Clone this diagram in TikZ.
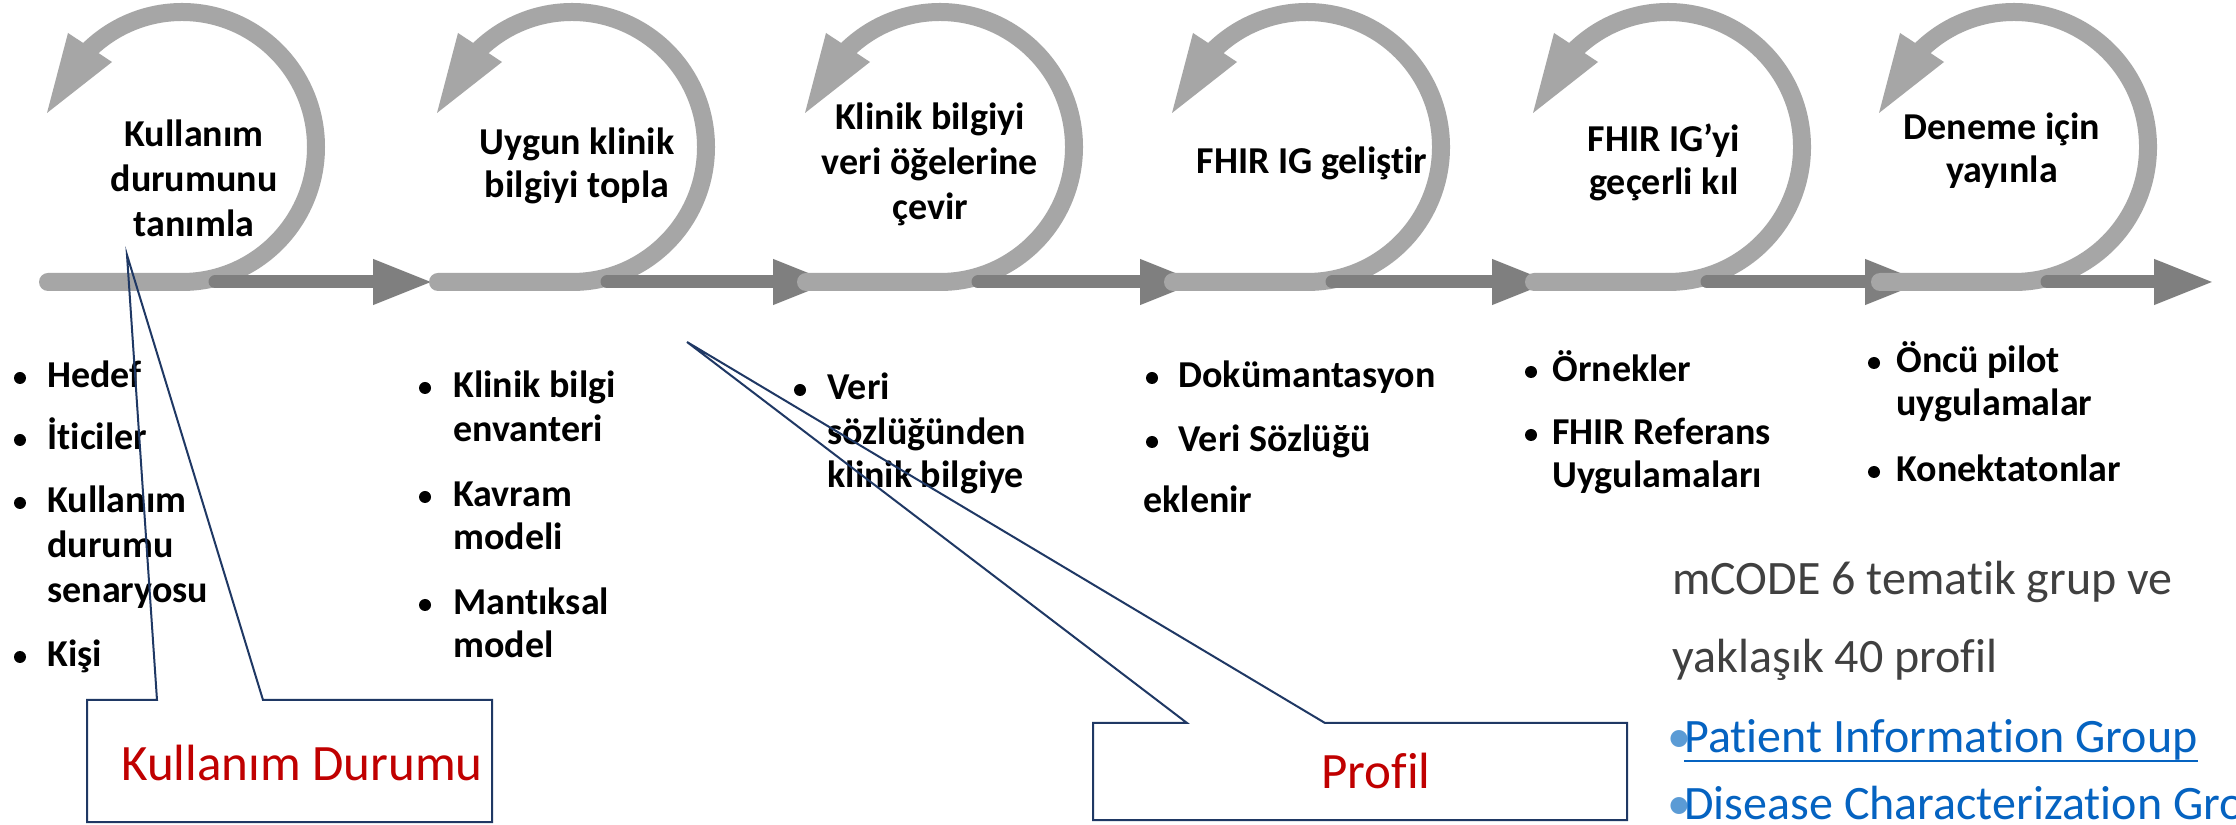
\documentclass[tikz,border=0pt]{standalone}
\usepackage{fontspec}
\setmainfont{Carlito}[Ligatures=NoCommon]
\usetikzlibrary{arrows.meta}
\definecolor{lightg}{HTML}{A6A6A6}
\definecolor{darkg}{HTML}{7F7F7F}
\definecolor{navy}{HTML}{1F3864}
\definecolor{redt}{HTML}{C00000}
\definecolor{greyt}{HTML}{404040}
\definecolor{linkblue}{HTML}{0563C1}
\definecolor{bulblue}{HTML}{5B9BD5}
\begin{document}
\begin{tikzpicture}[x=0.5pt,y=0.5pt,
  loopline/.style={draw=lightg,line width=9pt,line cap=round},
  loophead/.style={fill=lightg},
  darkarrow/.style={draw=darkg,line width=6.5pt,line cap=round},
  title/.style={anchor=base,font=\fontsize{19}{23}\selectfont\bfseries,inner sep=0pt},
  item/.style={anchor=base west,font=\fontsize{19}{23}\selectfont\bfseries,inner sep=0pt},
  dot/.style={circle,fill=black,inner sep=0pt,minimum size=6pt},
  callout/.style={draw=navy,line width=1pt},
  ctext/.style={anchor=base,text=redt,font=\fontsize{25.5}{30}\selectfont,inner sep=0pt},
  note/.style={anchor=base west,text=greyt,font=\fontsize{24}{28}\selectfont,inner sep=0pt},
  link/.style={anchor=base west,text=linkblue,font=\fontsize{24}{28}\selectfont,inner sep=0pt},
  linkdot/.style={anchor=base west,text=bulblue,font=\fontsize{24}{28}\selectfont,inner sep=0pt}]
\clip (0,0) rectangle (2236,824);
\fill[white] (0,0) rectangle (2236,824);
% loops and arrows
\foreach \i/\cx/\ds/\dt in {1/182/215/433, 2/572/607/833, 3/940/978/1200, 4/1307/1332/1552, 5/1668/1707/1925, 6/2014/2047/2214}{
  \draw[loopline] ({\cx-134},542) -- (\cx,542) arc[start angle=-90,end angle=136,x radius=134,y radius=135];
  \fill[loophead] ({\cx-135},711) -- ({\cx-114},791) -- ({\cx-70},762) -- cycle;
  \coordinate (s\i) at (\ds,542);
  \coordinate (e\i) at (\dt,542);
  \draw[darkarrow,-{Triangle[length=30pt,width=21pt]}] (s\i) -- (e\i);
}
% titles
\node[title] (t1a) at (194,677) {Kullanım};
\node[title] (t1b) at (194,632) {durumunu};
\node[title] (t1c) at (194,587) {tanımla};
\node[title] (t2a) at (577,669) {Uygun klinik};
\node[title] (t2b) at (577,626) {bilgiyi topla};
\node[title] (t3a) at (930,694) {Klinik bilgiyi};
\node[title] (t3b) at (930,649) {veri öğelerine};
\node[title] (t3c) at (930,604) {çevir};
\node[title] (t4a) at (1312,650) {FHIR IG geliştir};
\node[title] (t5a) at (1664,672) {FHIR IG’yi};
\node[title] (t5b) at (1664,629) {geçerli kıl};
\node[title] (t6a) at (2002,684) {Deneme için};
\node[title] (t6b) at (2002,641) {yayınla};
% list 1
\node[dot] (b1a) at (20,446) {};
\node[item] (l1a) at (47,436) {Hedef};
\node[dot] (b1b) at (20,384) {};
\node[item] (l1b) at (47,374) {İticiler};
\node[dot] (b1c) at (20,321) {};
\node[item] (l1c) at (47,311) {Kullanım};
\node[item] (l1d) at (47,266) {durumu};
\node[item] (l1e) at (47,221) {senaryosu};
\node[dot] (b1d) at (20,167) {};
\node[item] (l1f) at (47,157) {Kişi};
% list 2
\node[dot] (b2a) at (425,436) {};
\node[item] (l2a) at (453,426) {Klinik bilgi};
\node[item] (l2b) at (453,382) {envanteri};
\node[dot] (b2b) at (425,327) {};
\node[item] (l2c) at (453,317) {Kavram};
\node[item] (l2d) at (453,274) {modeli};
\node[dot] (b2c) at (425,219) {};
\node[item] (l2e) at (453,209) {Mantıksal};
\node[item] (l2f) at (453,166) {model};
% list 3
\node[dot] (b3a) at (800,434) {};
\node[item] (l3a) at (827,424) {Veri};
\node[item] (l3b) at (827,379) {sözlüğünden};
\node[item] (l3c) at (827,336) {klinik bilgiye};
% list 4
\node[dot] (b4a) at (1152,446) {};
\node[item] (l4a) at (1178,436) {Dokümantasyon};
\node[dot] (b4b) at (1152,382) {};
\node[item] (l4b) at (1178,372) {Veri Sözlüğü};
\node[item] (l4c) at (1143,311) {eklenir};
% list 5
\node[dot] (b5a) at (1531,452) {};
\node[item] (l5a) at (1552,442) {Örnekler};
\node[dot] (b5b) at (1531,389) {};
\node[item] (l5b) at (1552,379) {FHIR Referans};
\node[item] (l5c) at (1552,336) {Uygulamaları};
% list 6
\node[dot] (b6a) at (1874,461) {};
\node[item] (l6a) at (1896,451) {Öncü pilot};
\node[item] (l6b) at (1896,408) {uygulamalar};
\node[dot] (b6b) at (1874,352) {};
\node[item] (l6c) at (1896,342) {Konektatonlar};
% right notes
\node[note] (n1) at (1672,229) {mCODE 6 tematik grup ve};
\node[note] (n2) at (1672,151) {yaklaşık 40 profil};
\node[linkdot] (d1) at (1667,71) {•};
\node[link] (k1) at (1684,71) {Patient Information Group};
\draw[linkblue,line width=1.3pt] ([yshift=-4pt]k1.base west) -- ([yshift=-4pt]k1.base east);
\node[linkdot] (d2) at (1667,4) {•};
\node[link] (k2) at (1684,4) {Disease Characterization Group};
% callouts
\draw[callout] (87,124) -- (157,124) -- (127,569) -- (263,124) -- (492,124) -- (492,2) -- (87,2) -- cycle;
\node[ctext] (c1) at (302,44) {Kullanım Durumu};
\draw[callout] (1093,101) -- (1187,101) -- (687,482) -- (1325,101) -- (1627,101) -- (1627,4) -- (1093,4) -- cycle;
\node[ctext] (c2) at (1376,35) {Profil};
\end{tikzpicture}
\end{document}
